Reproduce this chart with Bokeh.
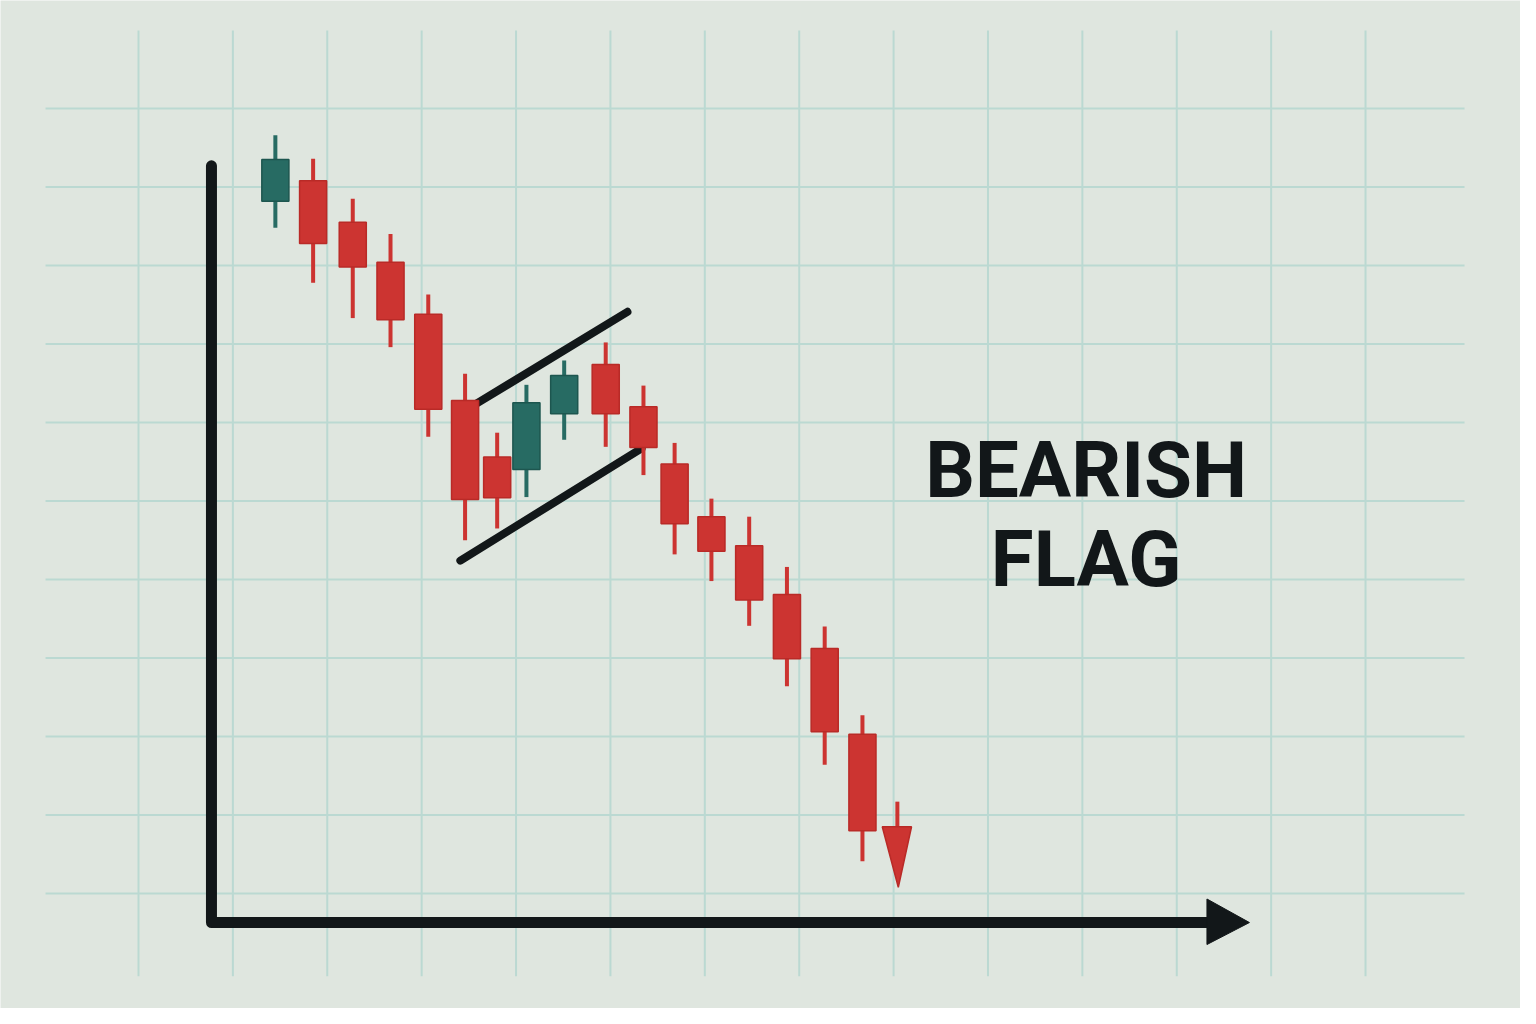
from bokeh.plotting import figure
from bokeh.models import Range1d, ColumnDataSource
from bokeh.core.properties import value
from bokeh.embed import file_html
from bokeh.resources import INLINE

# ---- data (x in grid columns, y in price units = grid rows) ----
t      = [1.45, 1.85, 2.27, 2.67, 3.07, 3.46, 3.80, 4.11, 4.51, 4.95, 5.35, 5.68, 6.07, 6.47, 6.87, 7.27, 7.67]
open_  = [8.82, 9.08, 8.55, 8.04, 7.38, 6.28, 5.56, 5.40, 6.11, 6.74, 6.20, 5.47, 4.80, 4.43, 3.81, 3.12, 2.03]
close  = [9.35, 8.28, 7.98, 7.31, 6.17, 5.02, 5.04, 6.25, 6.60, 6.11, 5.68, 4.71, 4.36, 3.74, 2.99, 2.06, 0.80]
high   = [9.66, 9.36, 8.85, 8.40, 7.63, 6.62, 5.87, 6.48, 6.79, 7.02, 6.47, 5.74, 5.03, 4.80, 4.16, 3.40, 2.27]
low    = [8.48, 7.78, 7.33, 6.96, 5.82, 4.50, 4.65, 5.05, 5.78, 5.69, 5.33, 4.32, 3.98, 3.41, 2.64, 1.64, 0.41]

# flag channel lines (start x, start y, end x, end y)
flag_upper = [3.58, 6.24, 5.18, 7.41]
flag_lower = [3.41, 4.24, 5.33, 5.67]

# breakdown arrow
arrow_x = 8.04
arrow_stem = [1.17, 0.85]
arrow_head_x = [7.88, 8.19, 8.05]
arrow_head_y = [0.85, 0.85, 0.08]

# axes drawn as lines
axis_x = [0.773, 0.773, 11.33]
axis_y = [9.27, -0.37, -0.37]
axis_head_x = [11.32, 11.32, 11.77]
axis_head_y = [-0.07, -0.65, -0.37]

grid_cols = list(range(0, 14))
grid_rows = list(range(0, 11))
grid_col_span = [-1.054, 10.994]
grid_row_span = [-0.985, 14.049]

labels = ["BEARISH", "FLAG"]
label_x = [10.04, 10.04]
label_y = [5.39, 4.25]

BG = "#dfe6df"
GRID = "#bbd9d2"
RED = "#cc3431"
RED_EDGE = "#b92a27"
GREEN = "#276b63"
GREEN_EDGE = "#1d564f"
DARK = "#121719"

p = figure(width=1520, height=1008, output_backend="svg", toolbar_location=None,
           x_range=Range1d(-1.4621, 14.6419), y_range=Range1d(-1.4650, 11.3758),
           x_axis_type=None, y_axis_type=None, min_border=0)
p.background_fill_color = BG
p.border_fill_color = BG
p.outline_line_color = None
p.xgrid.visible = False
p.ygrid.visible = False

# grid
p.segment(x0=grid_cols, y0=[grid_col_span[0]] * len(grid_cols),
          x1=grid_cols, y1=[grid_col_span[1]] * len(grid_cols),
          line_color=GRID, line_width=2)
p.segment(x0=[grid_row_span[0]] * len(grid_rows), y0=grid_rows,
          x1=[grid_row_span[1]] * len(grid_rows), y1=grid_rows,
          line_color=GRID, line_width=2)

# flag lines
p.segment(x0=[flag_upper[0], flag_lower[0]], y0=[flag_upper[1], flag_lower[1]],
          x1=[flag_upper[2], flag_lower[2]], y1=[flag_upper[3], flag_lower[3]],
          line_color=DARK, line_width=8, line_cap="round")

# candles
up = [c >= o for o, c in zip(open_, close)]
src = ColumnDataSource(dict(
    t=t, high=high, low=low,
    top=[max(o, c) for o, c in zip(open_, close)],
    bottom=[min(o, c) for o, c in zip(open_, close)],
    fill=[GREEN if u else RED for u in up],
    edge=[GREEN_EDGE if u else RED_EDGE for u in up],
))
p.segment(x0="t", y0="low", x1="t", y1="high", source=src, line_color="fill", line_width=4)
p.vbar(x="t", top="top", bottom="bottom", width=0.287, source=src,
       fill_color="fill", line_color="edge", line_width=1.5)

# breakdown arrow
p.segment(x0=[arrow_x], y0=[arrow_stem[0]], x1=[arrow_x], y1=[arrow_stem[1]],
          line_color=RED, line_width=4)
p.patch(x=arrow_head_x, y=arrow_head_y, fill_color=RED, line_color=RED_EDGE, line_width=1.5)

# axes
p.line(x=axis_x, y=axis_y, line_color=DARK, line_width=11, line_join="round", line_cap="round")
p.patch(x=axis_head_x, y=axis_head_y, fill_color=DARK, line_color=DARK, line_width=1)

# label
p.text(x=label_x, y=label_y, text=labels, text_align="center", text_baseline="alphabetic",
       text_font=value("Roboto"), text_font_style="bold", text_font_size="78px",
       text_color=DARK)

open("out.html", "w").write(file_html(p, INLINE))
